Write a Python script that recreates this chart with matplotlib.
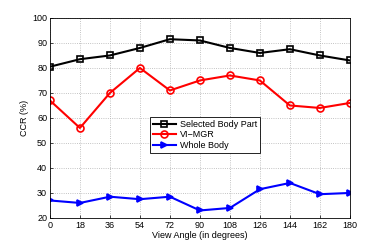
import matplotlib
matplotlib.use("Agg")
import matplotlib.pyplot as plt

angles = [0, 18, 36, 54, 72, 90, 108, 126, 144, 162, 180]
selected_body_part = [80.5, 83.5, 85, 88, 91.5, 91, 88, 86, 87.5, 85, 83]
vi_mgr = [67, 56, 70, 80, 71, 75, 77, 75, 65, 64, 66]
whole_body = [27, 26, 28.5, 27.5, 28.5, 23, 24, 31.5, 34, 29.5, 30]

plt.rcParams["font.family"] = ["Liberation Sans", "DejaVu Sans"]
fig = plt.figure(figsize=(3.87, 2.46), dpi=100)
ax = fig.add_axes([0.129, 0.114, 0.775, 0.813])

ax.plot(angles, selected_body_part, color="black", marker="s", ms=4, mfc="none",
        mew=1.2, lw=1.5, label="Selected Body Part")
ax.plot(angles, vi_mgr, color="red", marker="o", ms=5, mfc="none",
        mew=1.2, lw=1.5, label="VI\u2212MGR")
ax.plot(angles, whole_body, color="blue", marker=">", ms=5,
        mew=1.2, lw=1.5, label="Whole Body")

ax.set_xlim(0, 180)
ax.set_ylim(20, 100)
ax.set_xticks(angles)
ax.set_yticks(range(20, 101, 10))
ax.tick_params(labelsize=6.5, direction="in", length=2, width=0.5, pad=2)
ax.grid(True, linestyle=":", color="#b0b0b0", linewidth=0.6)
for s in ax.spines.values():
    s.set_linewidth(0.6)
ax.set_xlabel("View Angle (in degrees)", fontsize=6.5, labelpad=1)
ax.set_ylabel("CCR (%)", fontsize=6.5, labelpad=2)

leg = ax.legend(loc="upper left", bbox_to_anchor=(0.333, 0.505), fontsize=6.5,
                fancybox=False, framealpha=1, edgecolor="black",
                borderpad=0.3, labelspacing=0.2, handlelength=2.6,
                handletextpad=0.4, borderaxespad=0)
leg.get_frame().set_linewidth(0.6)

fig.savefig("out.png", dpi=100)
